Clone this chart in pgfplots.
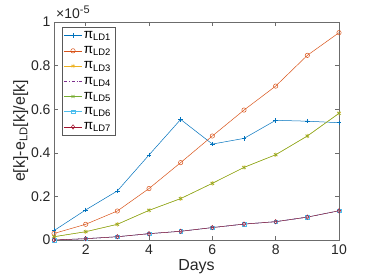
\documentclass[border=0pt]{standalone}
\usepackage{fontspec}
\setmainfont{Liberation Sans}
\usepackage{pgfplots}
\pgfplotsset{compat=1.18}
\definecolor{mB}{rgb}{0,0.447,0.741}
\definecolor{mO}{rgb}{0.85,0.325,0.098}
\definecolor{mY}{rgb}{0.929,0.694,0.125}
\definecolor{mP}{rgb}{0.494,0.184,0.556}
\definecolor{mG}{rgb}{0.466,0.674,0.188}
\definecolor{mL}{rgb}{0.301,0.745,0.933}
\definecolor{mR}{rgb}{0.635,0.078,0.184}
\begin{document}
\begin{tikzpicture}
\useasboundingbox (-54pt,-40pt) rectangle (320pt,240pt);
\begin{axis}[
  name=ax,
  scale only axis, width=285pt, height=218pt,
  xmin=1, xmax=10, ymin=0, ymax=1,
  xtick={2,4,6,8,10}, ytick={0,0.2,0.4,0.6,0.8,1},
  yticklabels={0,0.2,0.4,0.6,0.8,1},
  tick align=inside, tick pos=both,
  major tick length=4pt,
  axis line style={gray!85!black, line width=0.5pt},
  tick style={gray!85!black, line width=0.5pt},
  every tick label/.append style={font=\fontsize{14}{16}\selectfont, text=black!85},
  xticklabel style={yshift=-1pt},
  /pgf/number format/assume math mode=true,
  xlabel={Days},
  ylabel={e[k]-e\textsubscript{LD}[k]/e[k]},
  label style={font=\fontsize{16}{18}\selectfont, text=black!85},
  xlabel style={yshift=2pt},
  ylabel style={yshift=-4pt},
  legend cell align=left,
  legend style={at={(axis description cs:0.028,0.977)}, anchor=north west,
    draw=gray!70!black, line width=0.5pt, font=\fontsize{13.5}{15}\selectfont,
    row sep=2.6pt, inner sep=2pt},
  every axis plot/.append style={line width=0.5pt, mark size=2.2pt, mark options={solid}},
]
\addplot[color=mB, mark=+] coordinates {(1,0.043)(2,0.138)(3,0.225)(4,0.39)(5,0.553)(6,0.44)(7,0.466)(8,0.549)(9,0.545)(10,0.538)};
\addlegendentry{π\textsubscript{LD1}}
\addplot[color=mO, mark=o] coordinates {(1,0.03)(2,0.072)(3,0.133)(4,0.236)(5,0.355)(6,0.477)(7,0.596)(8,0.706)(9,0.847)(10,0.951)};
\addlegendentry{π\textsubscript{LD2}}
\addplot[color=mY, mark=asterisk] coordinates {(1,0.015)(2,0.038)(3,0.072)(4,0.136)(5,0.19)(6,0.26)(7,0.333)(8,0.391)(9,0.477)(10,0.581)};
\addlegendentry{π\textsubscript{LD3}}
\addplot[color=mP, dash dot] coordinates {(1,0.0)(2,0.006)(3,0.015)(4,0.029)(5,0.04)(6,0.057)(7,0.073)(8,0.084)(9,0.105)(10,0.134)};
\addlegendentry{π\textsubscript{LD4}}
\addplot[color=mG, mark=x] coordinates {(1,0.015)(2,0.038)(3,0.072)(4,0.136)(5,0.19)(6,0.26)(7,0.333)(8,0.391)(9,0.477)(10,0.581)};
\addlegendentry{π\textsubscript{LD5}}
\addplot[color=mL, mark=square, mark size=1.8pt] coordinates {(1,0.0)(2,0.006)(3,0.015)(4,0.029)(5,0.04)(6,0.057)(7,0.073)(8,0.084)(9,0.105)(10,0.134)};
\addlegendentry{π\textsubscript{LD6}}
\addplot[color=mR, mark=diamond] coordinates {(1,0.0)(2,0.006)(3,0.015)(4,0.029)(5,0.04)(6,0.057)(7,0.073)(8,0.084)(9,0.105)(10,0.134)};
\addlegendentry{π\textsubscript{LD7}}
\end{axis}
\node[anchor=south west, inner sep=0pt, font=\fontsize{14}{16}\selectfont, text=black!85] at (ax.north west) [xshift=2pt, yshift=3pt] {×10\raisebox{5pt}{\fontsize{11}{12}\selectfont -5}};
\end{tikzpicture}
\end{document}
